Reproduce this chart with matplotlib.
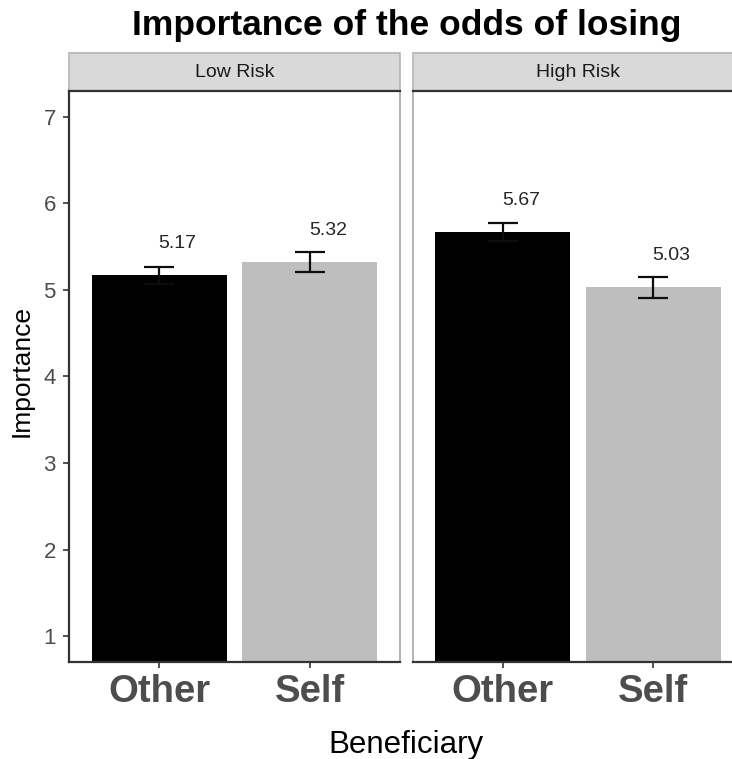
import numpy as np
import matplotlib
matplotlib.use("Agg")
import matplotlib.pyplot as plt
from matplotlib.patches import Rectangle

# data
panels = ["Low Risk", "High Risk"]
beneficiary = ["Other", "Self"]
low_means = [5.17, 5.32]
low_se = [0.10, 0.115]
high_means = [5.67, 5.03]
high_se = [0.10, 0.12]
yticks = [1, 2, 3, 4, 5, 6, 7]

BAR_COLORS = ["#000000", "#bebebe"]
DARK = "#333333"
TICK_TXT = "#4d4d4d"
STRIP_BG = "#d9d9d9"
BORDER = "#b3b3b3"

plt.rcParams["font.family"] = ["Liberation Sans", "DejaVu Sans"]

W, H = 732, 759
fig = plt.figure(figsize=(W / 100, H / 100), dpi=100)

pan_w = 331 / W
pan_bottom = (H - 662) / H
pan_h = (662 - 91) / H
strip_h = (91 - 53.5) / (662 - 91)

lefts = [69 / W, 412.5 / W]
series = [(low_means, low_se), (high_means, high_se)]

for i, (name, (means, se)) in enumerate(zip(panels, series)):
    ax = fig.add_axes([lefts[i], pan_bottom, pan_w, pan_h])
    x = np.arange(1, len(beneficiary) + 1)
    ax.bar(x, means, width=0.9, color=BAR_COLORS, zorder=2)
    ax.errorbar(x, means, yerr=se, fmt="none", ecolor="#0d0d0d",
                elinewidth=1.6, capsize=10.8, capthick=1.6, zorder=3)
    for xi, m in zip(x, means):
        ax.text(xi + 0.12, m + 0.37, f"{m:.2f}", ha="center", va="center",
                fontsize=14, color="#262626", zorder=4)

    ax.set_xlim(0.4, 2.6)
    ax.set_ylim(0.7, 7.3)
    ax.set_xticks(x)
    ax.set_xticklabels(beneficiary, fontsize=27.5, fontweight="bold", color=TICK_TXT)
    ax.tick_params(axis="x", length=4.5, width=1.2, color=DARK, pad=4)

    if i == 0:
        ax.set_yticks(yticks)
        ax.set_yticklabels([str(t) for t in yticks], fontsize=16, color=TICK_TXT)
        ax.tick_params(axis="y", length=4, width=1.2, color=DARK, pad=5.5)
        ax.spines["left"].set_color(DARK)
        ax.spines["left"].set_linewidth(1.6)
    else:
        ax.set_yticks([])
        ax.spines["left"].set_color(BORDER)
        ax.spines["left"].set_linewidth(1.4)
    ax.spines["right"].set_color(BORDER)
    ax.spines["right"].set_linewidth(1.4)
    ax.spines["bottom"].set_color(DARK)
    ax.spines["bottom"].set_linewidth(1.6)
    ax.spines["top"].set_color(DARK)
    ax.spines["top"].set_linewidth(1.6)

    # facet strip
    ax.add_patch(Rectangle((0, 1), 1, strip_h, transform=ax.transAxes,
                           facecolor=STRIP_BG, edgecolor=BORDER, lw=1.2,
                           clip_on=False, zorder=1))
    ax.text(0.5, 1 + strip_h / 2, name, transform=ax.transAxes,
            ha="center", va="center", fontsize=14, color="#1a1a1a")

center_x = (69 + 412.5 + pan_w * W) / 2 / W
fig.text(center_x, (H - 35) / H, "Importance of the odds of losing",
         ha="center", va="baseline", fontsize=25.5, fontweight="bold", color="black")
fig.text(center_x, (H - 753) / H, "Beneficiary", ha="center", va="baseline",
         fontsize=22.5, color="black")
fig.text(22 / W, (H - 371) / H, "Importance", ha="center", va="center",
         rotation=90, fontsize=19, color="black")

fig.savefig("out.png", dpi=100)
